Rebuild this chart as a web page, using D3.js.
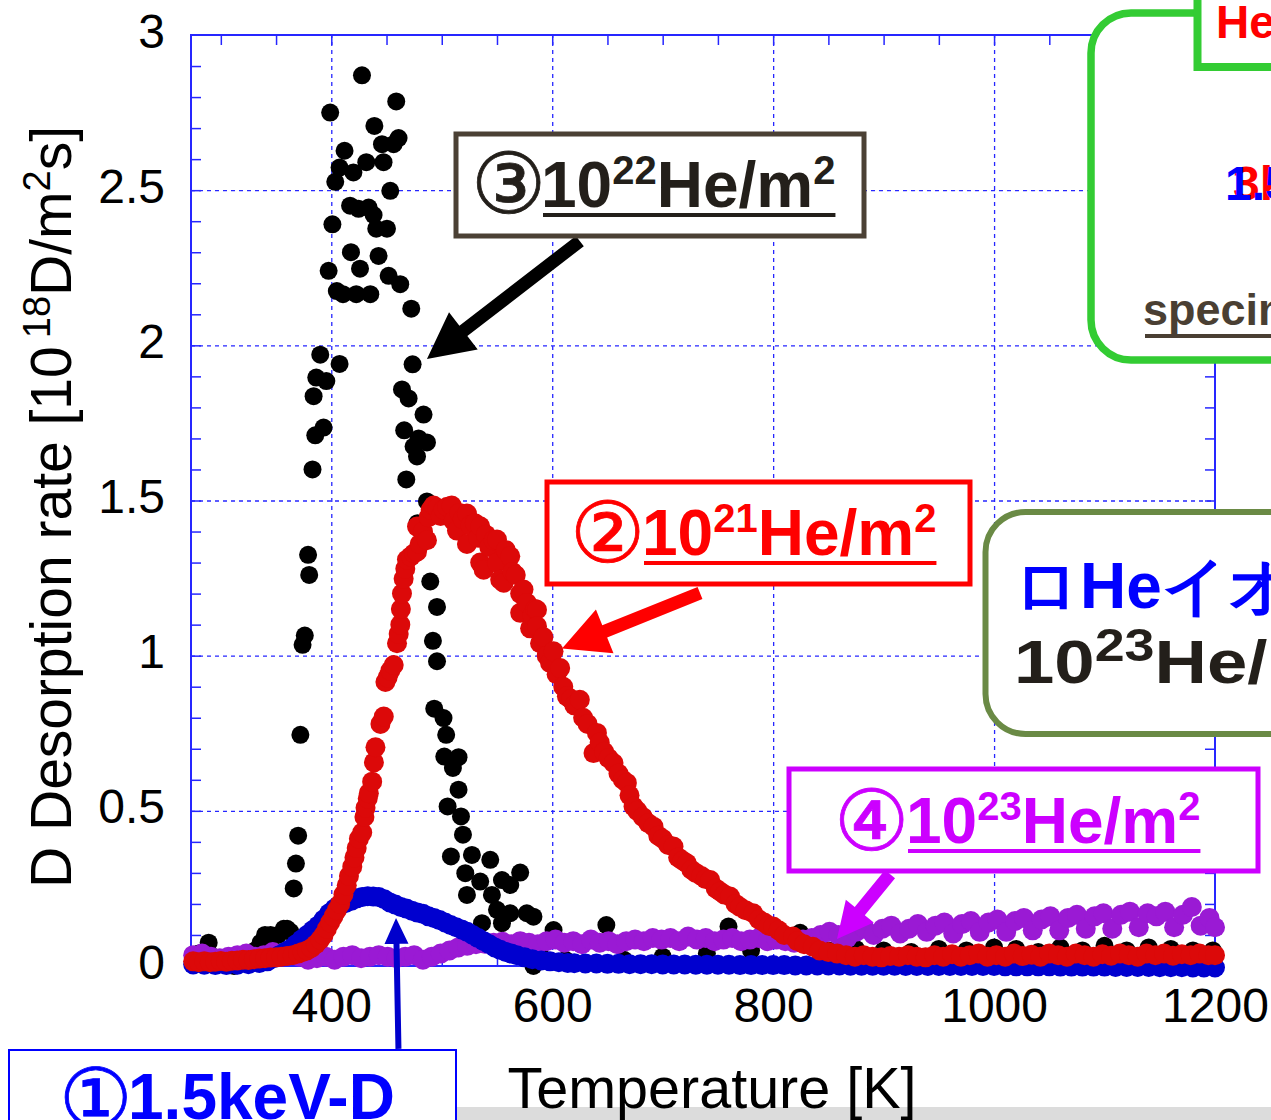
<!DOCTYPE html>
<html>
<head>
<meta charset="utf-8">
<script src="https://cdn.jsdelivr.net/npm/d3@7"></script>
<style>
  html, body { margin: 0; padding: 0; background: #fff; }
  svg { display: block; }
  text { font-family: "Liberation Sans", Arial, sans-serif; }
</style>
</head>
<body>
<div id="chart"></div>
<script>
// axis setup
var tempDomain = [273, 1200];
var rateDomain = [0, 3];
var tempTicks = [400, 600, 800, 1000, 1200];
var rateTicks = [0, 0.5, 1, 1.5, 2, 2.5, 3];

// (1) 1.5keV-D only (blue)
var seriesD = [
  [275,0.005],[285,0.004],[295,0.003],[305,0.003],[315,0.004],[325,0.006],[335,0.01],[342,0.015],
  [348,0.025],[353,0.035],[358,0.045],[363,0.055],[368,0.07],[373,0.085],[378,0.1],[383,0.115],
  [388,0.13],[393,0.15],[398,0.17],[403,0.185],[408,0.195],[413,0.203],[418,0.21],[423,0.218],
  [428,0.222],[433,0.225],[438,0.224],[443,0.222],[448,0.215],[453,0.205],[458,0.198],[463,0.19],
  [468,0.185],[473,0.178],[478,0.172],[483,0.168],[488,0.16],[493,0.155],[498,0.148],[503,0.14],
  [508,0.132],[513,0.125],[518,0.118],[523,0.11],[528,0.1],[533,0.09],[538,0.08],[543,0.07],
  [548,0.06],[553,0.052],[558,0.045],[563,0.04],[568,0.035],[575,0.028],[582,0.022],[590,0.018],
  [598,0.015],[606,0.012],[614,0.01],[620,0.009],[630,0.008],[640,0.008],[650,0.007],[660,0.007],
  [670,0.006],[680,0.006],[690,0.006],[700,0.005],[710,0.005],[720,0.005],[730,0.004],[740,0.004],
  [750,0.004],[760,0.004],[770,0.003],[780,0.003],[790,0.003],[800,0.003],[810,0.003],[820,0.002],
  [830,0.002],[840,0.002],[850,0.002],[860,0.002],[870,0.001],[880,0.001],[890,0.001],[900,0.001],
  [910,0.001],[920,0],[930,0],[940,0],[950,0],[960,0],[970,0],[980,0],[990,0],[1000,0],
  [1010,-0.001],[1020,-0.001],[1030,-0.001],[1040,-0.001],[1050,-0.001],[1060,-0.002],[1070,-0.002],
  [1080,-0.002],[1090,-0.002],[1100,-0.002],[1110,-0.003],[1120,-0.003],[1130,-0.003],[1140,-0.003],
  [1150,-0.004],[1160,-0.004],[1170,-0.004],[1180,-0.005],[1190,-0.005],[1200,-0.005]
];

// (2) 10^21 He/m2 (red)
var seriesHe21 = [
  [275,0.015],[280,0.012],[285,0.015],[290,0.012],[295,0.014],[300,0.016],[305,0.014],[310,0.017],
  [315,0.018],[320,0.02],[325,0.019],[330,0.022],[335,0.024],[340,0.025],[345,0.027],[350,0.028],
  [355,0.03],[360,0.032],[365,0.035],[370,0.04],[374,0.045],[378,0.05],[382,0.058],[386,0.07],
  [390,0.085],[393,0.1],[396,0.12],[399,0.14],[402,0.16],[405,0.18],[408,0.2],[411,0.23],
  [414,0.26],[416,0.29],[419,0.32],[421,0.35],[423,0.38],[425,0.41],[428,0.43],[430,0.48],
  [431,0.51],[433,0.54],[434,0.557],[437,0.594],[438.6,0.656],[440,0.705],[444.5,0.78],[447.5,0.804],
  [449,0.915],[451,0.93],[453.5,0.952],[456.5,0.97],[459.5,1.04],[461,1.07],[462.5,1.1],[463,1.15],
  [464,1.2],[465.5,1.248],[467,1.28],[468.5,1.31],[472,1.32],[475,1.33],[477.6,1.416],[477.6,1.335],
  [480,1.36],[483,1.4],[486.6,1.372],[488,1.446],[490,1.47],[492.6,1.484],[496,1.475],[499,1.45],
  [501.6,1.471],[505,1.48],[509,1.484],[510.7,1.434],[513.8,1.403],[516,1.46],[519,1.44],[522.8,1.458],
  [522.8,1.36],[526,1.42],[530,1.427],[533,1.38],[534.8,1.417],[534.8,1.3],[537.9,1.277],[540,1.39],
  [543,1.35],[546.9,1.372],[550,1.374],[550,1.3],[552.9,1.245],[556,1.235],[558,1.34],[562,1.32],
  [564,1.27],[567,1.26],[571,1.138],[571,1.2],[574,1.213],[577,1.17],[580,1.088],[582,1.13],
  [584.6,1.15],[586.2,1.148],[586.2,1.095],[589,1.04],[592,1.06],[595,1.0],[598,0.977],[601.2,1.014],
  [604,0.94],[607.2,0.96],[610,0.9],[613.3,0.869],[617,0.86],[620,0.84],[625,0.858],[628,0.8],
  [632,0.78],[637.4,0.686],[640.5,0.751],[643,0.72],[647,0.69],[651,0.67],[655.5,0.654],[660,0.62],
  [664,0.6],[667.6,0.59],[670,0.55],[673.6,0.514],[677,0.5],[682,0.48],[687,0.46],[691.7,0.449],
  [696,0.42],[700,0.41],[705,0.39],[709.8,0.385],[714,0.35],[718,0.34],[721.9,0.331],[726,0.31],
  [730,0.3],[735,0.29],[739,0.28],[743,0.277],[748,0.25],[752,0.24],[756,0.23],[761,0.224],
  [766,0.2],[770,0.19],[775,0.18],[782,0.17],[787,0.15],[792,0.14],[796,0.13],[800,0.127],
  [805,0.115],[810,0.1],[818,0.095],[822,0.08],[828,0.07],[836,0.062],[842,0.05],[850,0.045],
  [858,0.04],[866,0.035],[874,0.03],[882,0.035],[890,0.03],[898,0.028],[906,0.032],[914,0.03],
  [922,0.035],[930,0.03],[938,0.028],[946,0.035],[954,0.03],[962,0.038],[970,0.03],[978,0.035],
  [986,0.04],[994,0.03],[1002,0.035],[1010,0.03],[1018,0.04],[1026,0.032],[1034,0.036],[1042,0.03],
  [1050,0.04],[1058,0.035],[1066,0.03],[1074,0.04],[1082,0.035],[1090,0.03],[1098,0.038],[1106,0.033],
  [1114,0.04],[1122,0.035],[1130,0.03],[1138,0.04],[1146,0.035],[1154,0.04],[1162,0.033],[1170,0.038],
  [1178,0.035],[1186,0.04],[1194,0.035],[1200,0.035]
];

// (3) 10^22 He/m2 (black)
var seriesHe22 = [
  [280,0.04],[284,0.02],[289,0.075],[293,0.03],[298,0.02],[305,0.01],[312,0],[318,0.02],[325,0.04],
  [331,0.05],[336,0.075],[340,0.1],[345,0.1],[352,0.1],[357,0.12],[360,0.12],[363,0.11],
  [366,0.25],[368,0.33],[370,0.42],[372,0.745],[374,1.035],[376,1.065],[379,1.325],[380,1.26],
  [383,1.6],[384,1.836],[385.5,1.71],[386.4,1.896],[390,1.97],[393,1.735],[395.5,1.885],[397.6,2.24],
  [399,2.75],[401,2.39],[403.6,2.527],[405,2.175],[407.5,2.573],[407.5,1.94],[410.6,2.165],[412,2.627],
  [417,2.45],[417.8,2.3],[420,2.557],[422.6,2.165],[424.7,2.44],[426,2.247],[427.8,2.87],[431.7,2.59],
  [433.8,2.444],[435.3,2.165],[438.3,2.42],[439,2.707],[440.7,2.376],[442.8,2.288],[445.9,2.648],
  [447.3,2.59],[450.4,2.376],[451.9,2.224],[453.4,2.498],[456.4,2.648],[458.8,2.786],[460.9,2.668],
  [462.4,2.197],[464,1.858],[466,1.726],[467.9,1.568],[470,1.829],[472.4,2.118],[473.6,1.939],
  [474.5,1.674],[477.6,1.642],[478,1.427],[479,1.7],[483.5,1.777],[486.6,1.687],[486.6,1.497],
  [489.6,1.239],[492,1.048],[493.2,0.829],[495.7,1.157],[495.7,0.982],[501.6,0.799],[502.3,0.675],
  [504,0.745],[505.3,0.514],[508.3,0.353],[510.1,0.638],[515.2,0.673],[515.2,0.568],[517.4,0.482],
  [519.2,0.423],[521.3,0.299],[522.8,0.229],[527.3,0.358],[534.8,0.272],[536.4,0.138],[543.9,0.342],
  [545.4,0.229],[550,0.181],[554.5,0.277],[554.5,0.138],[562,0.261],[562,0.17],[571,0.301],[577,0.17],
  [583,0.159],[583,0],[590,0.03],[601.2,0.116],[612,0.02],[630,0.01],[649,0.132],[665,0.02],[700,0.03],
  [740,0.04],[759.6,0.127],[780,0.05],[824.4,0.107],[850,0.05],[875,0.055],[900,0.05],[925,0.045],
  [950,0.055],[975,0.05],[1000,0.06],[1020,0.055],[1040,0.045],[1060,0.06],[1080,0.05],[1100,0.065],
  [1120,0.05],[1140,0.06],[1160,0.055],[1180,0.05],[1198,0.05]
];

// (4) 10^23 He/m2 (purple)
var seriesHe23 = [
  [275,0.035],[283,0.04],[291,0.03],[299,0.025],[307,0.03],[315,0.035],[323,0.04],[331,0.03],
  [339,0.035],[347,0.045],[355,0.04],[363,0.035],[371,0.03],[379,0.02],[387,0.025],[395,0.03],
  [403,0.02],[411,0.03],[419,0.035],[427,0.025],[435,0.03],[443,0.035],[451,0.03],[459,0.025],
  [467,0.03],[475,0.035],[483,0.02],[491,0.03],[499,0.04],[507,0.05],[515,0.06],[523,0.065],
  [531,0.07],[539,0.072],[547,0.075],[555,0.078],[563,0.07],[571,0.08],[579,0.075],[587,0.07],
  [595,0.08],[603,0.085],[611,0.075],[619,0.08],[627,0.07],[635,0.085],[643,0.075],[651,0.08],
  [659,0.07],[667,0.08],[675,0.085],[683,0.08],[691,0.09],[699,0.085],[707,0.09],[715,0.08],
  [723,0.095],[731,0.085],[739,0.09],[747,0.08],[755,0.085],[763,0.09],[771,0.08],[779,0.085],
  [787,0.09],[795,0.08],[803,0.085],[811,0.08],[819,0.075],[827,0.085],[835,0.09],[843,0.1],
  [851,0.11],[859,0.1],[867,0.09],[875,0.11],[883,0.12],[891,0.1],[899,0.12],[907,0.13],
  [915,0.105],[923,0.12],[931,0.135],[939,0.11],[947,0.13],[955,0.14],[963,0.105],[971,0.135],
  [979,0.145],[987,0.11],[995,0.14],[1003,0.15],[1011,0.11],[1019,0.145],[1027,0.155],[1035,0.115],
  [1043,0.15],[1051,0.16],[1059,0.115],[1067,0.155],[1075,0.165],[1083,0.12],[1091,0.16],[1099,0.17],
  [1107,0.12],[1115,0.165],[1123,0.175],[1131,0.125],[1139,0.17],[1147,0.16],[1155,0.175],[1163,0.125],
  [1171,0.165],[1179,0.19],[1187,0.13],[1195,0.155],[1200,0.125]
];

var width = 1271, height = 1120;
var frameCol = "#2626ff";

var svg = d3.select("#chart").append("svg")
    .attr("width", width)
    .attr("height", height);

svg.append("rect").attr("width", width).attr("height", height).attr("fill", "#fff");

var x = d3.scaleLinear().domain(tempDomain).range([191, 1215]);
var y = d3.scaleLinear().domain(rateDomain).range([966, 35]);

// grid (dashed blue)
svg.append("g")
    .attr("transform", "translate(0," + y(0) + ")")
    .call(d3.axisBottom(x).tickValues([400, 600, 800, 1000]).tickSize(-(y(0) - y(3))).tickFormat(""))
    .call(function (g) {
        g.select(".domain").remove();
        g.selectAll("line").attr("stroke", frameCol).attr("stroke-width", 1.3).attr("stroke-dasharray", "4,4");
    });
svg.append("g")
    .attr("transform", "translate(" + x(tempDomain[0]) + ",0)")
    .call(d3.axisLeft(y).tickValues([0.5, 1, 1.5, 2, 2.5]).tickSize(-(x(1200) - x(tempDomain[0]))).tickFormat(""))
    .call(function (g) {
        g.select(".domain").remove();
        g.selectAll("line").attr("stroke", frameCol).attr("stroke-width", 1.3).attr("stroke-dasharray", "4,4");
    });

// inward ticks on all four sides
var minorT = d3.range(300, 1200, 50);
var minorR = d3.range(0.1, 3, 0.1);
function tickSide(axis, tx, ty, values, size) {
    svg.append("g")
        .attr("transform", "translate(" + tx + "," + ty + ")")
        .call(axis.tickValues(values).tickSize(-size).tickFormat(""))
        .call(function (g) {
            g.select(".domain").remove();
            g.selectAll("line").attr("stroke", frameCol).attr("stroke-width", 1.5);
        });
}
tickSide(d3.axisTop(x), 0, y(3), minorT, 10);
tickSide(d3.axisBottom(x), 0, y(0), minorT, 10);
tickSide(d3.axisLeft(y), x(tempDomain[0]), 0, minorR, 10);
tickSide(d3.axisRight(y), x(1200), 0, minorR, 10);

svg.append("rect")
    .attr("x", x(tempDomain[0])).attr("y", y(3))
    .attr("width", x(1200) - x(tempDomain[0])).attr("height", y(0) - y(3))
    .attr("fill", "none").attr("stroke", frameCol).attr("stroke-width", 2);

// tick labels
svg.append("g")
    .attr("transform", "translate(" + x(tempDomain[0]) + ",0)")
    .call(d3.axisLeft(y).tickValues(rateTicks).tickSize(0).tickPadding(26).tickFormat(d3.format("")))
    .call(function (g) {
        g.select(".domain").remove();
        g.selectAll("text").attr("font-size", 48).attr("fill", "#000").attr("dy", "0.25em")
            .attr("font-family", "Liberation Sans, Arial, sans-serif");
    });
svg.append("g")
    .attr("transform", "translate(0," + y(0) + ")")
    .call(d3.axisBottom(x).tickValues(tempTicks).tickSize(0).tickPadding(22).tickFormat(d3.format("")))
    .call(function (g) {
        g.select(".domain").remove();
        g.selectAll("text").attr("font-size", 48).attr("fill", "#000")
            .attr("font-family", "Liberation Sans, Arial, sans-serif");
    });

// data, back to front
function dots(data, color, r) {
    svg.append("g").selectAll("circle")
        .data(data)
        .enter().append("circle")
        .attr("cx", function (d) { return x(d[0]); })
        .attr("cy", function (d) { return y(d[1]); })
        .attr("r", r)
        .attr("fill", color);
}
dots(seriesHe22, "#000000", 9);
dots(seriesHe23, "#9a1ad4", 10);
dots(seriesD, "#0000cf", 10);
dots(seriesHe21, "#dc0909", 10);

// text with superscripts, parts = [text, isSup, dx]
function rich(g, tx, ty, parts, size, supSize, fill, anchor) {
    var rise = size * 0.36;
    var t = g.append("text")
        .attr("x", tx).attr("y", ty)
        .attr("font-size", size)
        .attr("fill", fill)
        .attr("text-anchor", anchor || "start");
    var up = false;
    parts.forEach(function (p) {
        var s = t.append("tspan").text(p[0]);
        if (p[1] && !up) { s.attr("dy", -rise).attr("font-size", supSize); up = true; }
        else if (p[1]) { s.attr("font-size", supSize); }
        else if (up) { s.attr("dy", rise); up = false; }
        if (p[2]) s.attr("dx", p[2]);
    });
    return t;
}

function arrow(tail, tip, shaft, headLen, headW, color) {
    var x0 = x(tail[0]), y0 = y(tail[1]), x1 = x(tip[0]), y1 = y(tip[1]);
    var dx = x1 - x0, dy = y1 - y0, len = Math.sqrt(dx * dx + dy * dy);
    var ux = dx / len, uy = dy / len, px = -uy, py = ux;
    var bx = x1 - ux * headLen, by = y1 - uy * headLen;
    var pts = [
        [x0 + px * shaft / 2, y0 + py * shaft / 2],
        [bx + px * shaft / 2, by + py * shaft / 2],
        [bx + px * headW / 2, by + py * headW / 2],
        [x1, y1],
        [bx - px * headW / 2, by - py * headW / 2],
        [bx - px * shaft / 2, by - py * shaft / 2],
        [x0 - px * shaft / 2, y0 - py * shaft / 2]
    ];
    svg.append("polygon")
        .attr("points", pts.map(function (p) { return p.join(","); }).join(" "))
        .attr("fill", color);
}

// circled number, centred on (cx, cy)
function circled(g, cx, cy, ch, size, fill) {
    return g.append("text")
        .attr("x", cx).attr("y", cy + size * 0.36)
        .attr("text-anchor", "middle")
        .attr("font-family", "Noto Sans CJK JP, sans-serif")
        .attr("font-weight", "normal")
        .attr("font-size", size)
        .attr("fill", fill)
        .attr("stroke", fill)
        .attr("stroke-width", 0.8)
        .text(ch);
}

// dose labels with arrows
var notes = [
    {mark: "③", exp: "22", col: "#231f1a", border: "#4b4135", box: [456, 134, 408, 102], num: [508, 183], txt: [541, 207],
     tail: [625, 2.336], tip: [486.6, 1.956], shaft: 13, head: [46, 47], arrowCol: "#000"},
    {mark: "②", exp: "21", col: "#ff0000", border: "#ff0000", box: [547, 482, 423, 102], num: [607, 532], txt: [642, 555],
     tail: [733.8, 1.202], tip: [608.9, 1.023], shaft: 13, head: [46, 47], arrowCol: "#ff0000"},
    {mark: "④", exp: "23", col: "#cc00ff", border: "#cc00ff", box: [789, 769, 469, 102], num: [871, 820], txt: [906, 843],
     tail: [905.8, 0.296], tip: [857.8, 0.087], shaft: 13, head: [36, 36], arrowCol: "#cc00ff"}
];

notes.forEach(function (n) {
    arrow(n.tail, n.tip, n.shaft, n.head[0], n.head[1], n.arrowCol);
    var g = svg.append("g");
    g.append("rect")
        .attr("x", n.box[0]).attr("y", n.box[1]).attr("width", n.box[2]).attr("height", n.box[3])
        .attr("fill", "#fff").attr("stroke", n.border).attr("stroke-width", 5);
    circled(g, n.num[0], n.num[1], n.mark, 84, n.col);
    var t = rich(g, n.txt[0], n.txt[1], [["10"], [n.exp, true], ["He/m"], ["2", true]], 64, 40, n.col)
        .attr("font-weight", "bold");
    var bb = t.node().getBBox();
    g.append("rect")
        .attr("x", n.txt[0] + 2).attr("y", n.txt[1] + 6)
        .attr("width", bb.width - 2).attr("height", 4)
        .attr("fill", n.col);
});

// (1) label below the axis
arrow([460.8, -0.267], [458.6, 0.155], 6, 26, 24, "#0000cc");
svg.append("rect").attr("x", 457).attr("y", 1107).attr("width", width - 457).attr("height", 13).attr("fill", "#dcdcdc");
svg.append("rect")
    .attr("x", 9).attr("y", 1050).attr("width", 447).attr("height", 90)
    .attr("fill", "#fff").attr("stroke", "#0000ff").attr("stroke-width", 2);
circled(svg, 96, 1097, "①", 82, "#0000ff");
svg.append("text")
    .attr("x", 128).attr("y", 1119)
    .attr("font-weight", "bold").attr("font-size", 64).attr("fill", "#0000ff")
    .text("1.5keV-D");

// axis titles
svg.append("text")
    .attr("x", 712).attr("y", 1108)
    .attr("text-anchor", "middle").attr("font-size", 57.5).attr("fill", "#000")
    .text("Temperature [K]");
rich(svg.append("g").attr("transform", "translate(71,507) rotate(-90)"), 0, 0,
    [["D Desorption rate [10"], ["18", true, 8], ["D/m"], ["2", true], ["s]"]], 57, 38, "#000", "middle");

// green panel, top right
svg.append("rect")
    .attr("x", 1091).attr("y", 13).attr("width", 260).attr("height", 347).attr("rx", 40)
    .attr("fill", "#fff").attr("stroke", "#33cc33").attr("stroke-width", 7.5);
svg.append("rect")
    .attr("x", 1197.5).attr("y", -20).attr("width", 120).attr("height", 87)
    .attr("fill", "#fff").attr("stroke", "#33cc33").attr("stroke-width", 8);
svg.append("text").attr("x", 1216).attr("y", 38)
    .attr("font-weight", "bold").attr("font-size", 46).attr("fill", "#ff0000").text("He");
svg.append("text").attr("x", 1233).attr("y", 200)
    .attr("font-weight", "bold").attr("font-size", 48).attr("fill", "#ff0000").text("3keV");
svg.append("text").attr("x", 1225).attr("y", 200)
    .attr("font-weight", "bold").attr("font-size", 48).attr("fill", "#0000ff").text("1.5keV");
svg.append("text").attr("x", 1143).attr("y", 325)
    .attr("font-weight", "bold").attr("font-size", 45).attr("fill", "#4a3f33").text("specimen");
svg.append("rect").attr("x", 1145).attr("y", 334).attr("width", 130).attr("height", 4).attr("fill", "#4a3f33");

// olive panel, right middle
svg.append("rect")
    .attr("x", 985.5).attr("y", 512).attr("width", 330).attr("height", 222).attr("rx", 40)
    .attr("fill", "#fff").attr("stroke", "#6a8a45").attr("stroke-width", 6);
svg.append("text").attr("x", 1014).attr("y", 608)
    .attr("font-family", "Liberation Sans, Noto Sans CJK JP, sans-serif")
    .attr("font-weight", "bold").attr("font-size", 64).attr("fill", "#0000ff")
    .text("ロHeイオン");
rich(svg.append("g").attr("transform", "translate(1014,683) scale(1.17,1)"), 0, 0,
    [["10"], ["23", true], ["He/m"], ["2", true]], 62, 46, "#231f1a")
    .attr("font-weight", "bold");
</script>
</body>
</html>
